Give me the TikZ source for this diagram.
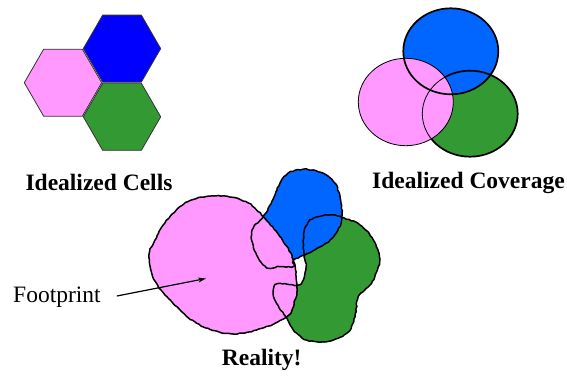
\documentclass[tikz,border=0pt]{standalone}
\usepackage{fontspec}
\setmainfont{Liberation Serif}
\usetikzlibrary{arrows.meta,decorations.pathmorphing}
\definecolor{cpink}{HTML}{FF99FF}
\definecolor{cblue}{HTML}{0000FF}
\definecolor{cblue2}{HTML}{0066FF}
\definecolor{cgreen}{HTML}{339933}
\begin{document}
\begin{tikzpicture}[x=1pt,y=-1pt,
  hexa/.style={draw=black!80,line width=0.8pt,line join=round},
  blob/.style={draw=black,line width=1.5pt,line join=round,
    decorate,decoration={random steps,segment length=2.5pt,amplitude=0.5pt}},
  lbl/.style={font=\fontsize{23.5}{28}\selectfont\bfseries,inner sep=0pt},
  txt/.style={font=\fontsize{23.5}{28}\selectfont,inner sep=0pt}]
\pgfmathsetseed{7}
\useasboundingbox (0,0) rectangle (567,375);
% Idealized cells (flat-top hexagons)
\def\hex#1#2{(#1-38.7,#2) -- (#1-19.35,#2-33.5) -- (#1+19.35,#2-33.5) -- (#1+38.7,#2) -- (#1+19.35,#2+33.5) -- (#1-19.35,#2+33.5) -- cycle}
\filldraw[hexa,fill=cpink] \hex{63}{82.7};
\filldraw[hexa,fill=cblue] \hex{122}{48.6};
\filldraw[hexa,fill=cgreen] \hex{122}{116.8};
\node[lbl] (cells) at (99,182) {Idealized Cells};
% Idealized coverage
\def\gell{(470,113.7) ellipse [x radius=47.7pt, y radius=43pt]}
\def\bell{(450.8,51.3) ellipse [x radius=47.5pt, y radius=43pt]}
\def\pell{(405.8,102) ellipse [x radius=47.5pt, y radius=43.7pt]}
\fill[cgreen] \gell;
\fill[cblue2] \bell;
\draw[line width=1.7pt] \gell;
\draw[line width=1.7pt] \bell;
\begin{scope}
  \clip \pell;
  \fill[cpink] \pell;
  \draw[line width=0.8pt] \gell;
  \draw[line width=1.7pt] \bell;
\end{scope}
\draw[line width=0.8pt] \pell;
\node[lbl] (cov) at (468.5,183) {Idealized Coverage};
% Reality
\def\greenblob{plot[smooth cycle,tension=0.6] coordinates {(341.7,217.3) (360,225) (373.3,240) (379.3,256.7) (377.3,270) (370,285) (358.3,296.7) (355,316.7) (346.7,333.3) (326.7,341.7) (306.7,340) (293.3,330) (286.7,318.3) (276.7,303.3) (273.3,291.7) (277.3,284) (296.7,285) (303.3,280) (306,266.7) (304.3,255) (303.3,240) (305.7,226.7) (313.3,218.3) (330,215)}}
\def\blueblob{plot[smooth cycle,tension=0.6] coordinates {(263.3,216.7) (271.7,201.7) (280,183.3) (288.3,173.3) (303.3,169.3) (321.7,172.7) (335,183.3) (341,203.3) (341,223.3) (330,240) (313.3,250.7) (300,256.7) (294,260) (293.3,266) (280,266.7) (266.7,267.3) (256.7,255) (251.7,240) (253.3,228.3)}}
\def\pinkblob{plot[smooth cycle,tension=0.65] coordinates {(223.3,196) (190,200.5) (168,219) (155,240) (149,257) (155,281) (172,302) (196.7,323.3) (226.7,333.3) (256.7,330) (286.7,316.7) (295,300) (296.7,286.7) (293.3,260) (280,236.7) (263.3,216.7) (248,203)}}
\fill[cgreen] \greenblob;
\fill[cblue2] \blueblob;
\fill[cpink] \pinkblob;
\draw[blob] \greenblob;
\draw[blob] \blueblob;
\draw[blob] \pinkblob;
\node[lbl] (real) at (261.7,360) {Reality!};
\node[txt,anchor=west] (fp) at (13,297) {Footprint};
\coordinate (fpend) at (206,278.5);
\draw[line width=1.2pt,-{Stealth[length=8pt,width=5pt]}] ([xshift=16pt,yshift=1pt]fp.east) -- (fpend);
\end{tikzpicture}
\end{document}
